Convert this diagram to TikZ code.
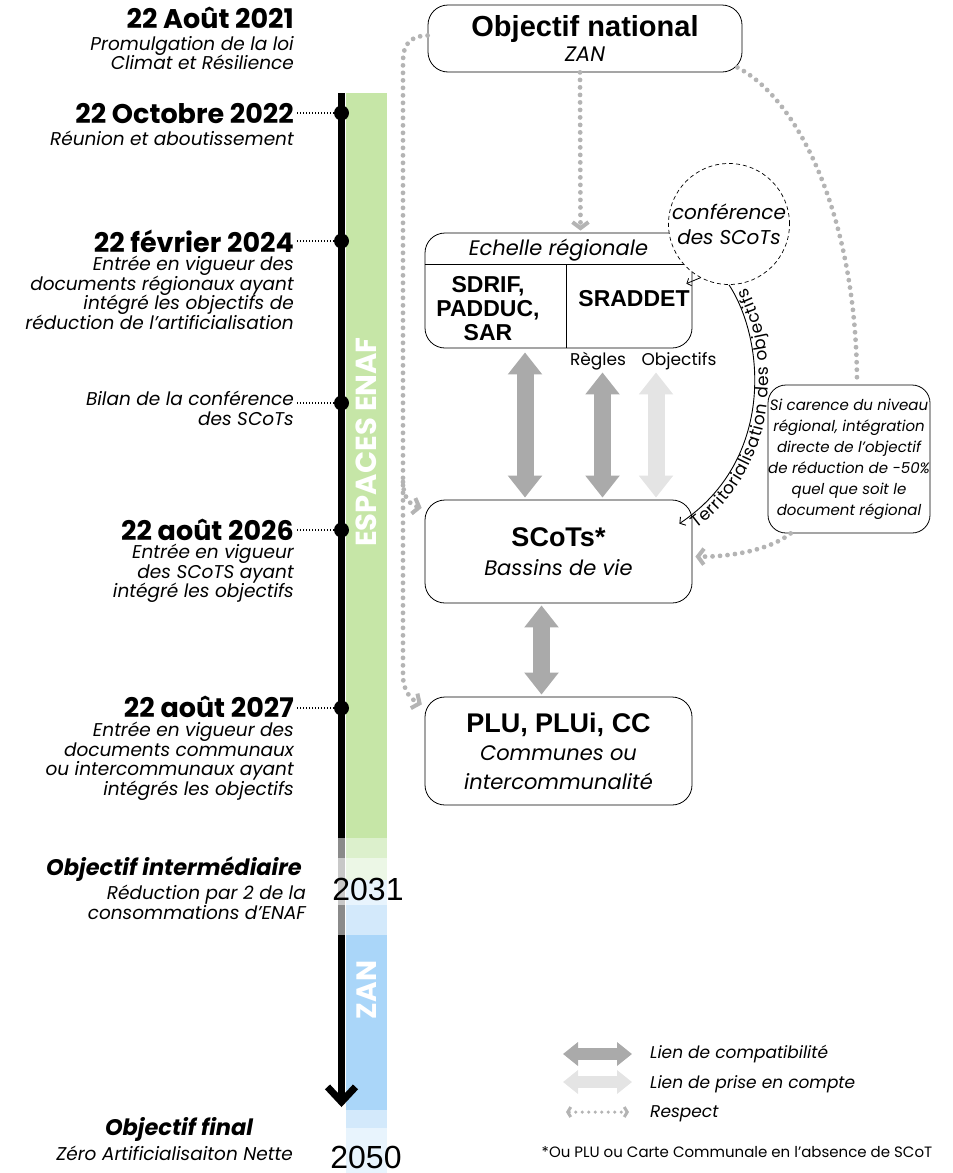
\documentclass[tikz,border=0pt]{standalone}
\usepackage{fontspec}
\setmainfont{Poppins}
\newfontfamily\titlefont{Liberation Sans}
\usetikzlibrary{arrows.meta,positioning,decorations.text}

\definecolor{enafgreen}{RGB}{198,230,167}
\definecolor{fadegreen}{RGB}{220,240,204}
\definecolor{palegreen}{RGB}{236,247,230}
\definecolor{paleblue}{RGB}{232,244,253}
\definecolor{fadeblue}{RGB}{211,233,251}
\definecolor{zanblue}{RGB}{170,214,249}
\definecolor{fadeline}{RGB}{138,138,138}
\definecolor{paleline}{RGB}{200,200,200}
\definecolor{compatgray}{RGB}{170,170,170}
\definecolor{prisegray}{RGB}{228,228,228}
\definecolor{respgray}{RGB}{180,180,180}

\tikzset{
  datelbl/.style={anchor=base east, inner sep=0pt, font=\fontsize{27}{30}\selectfont\bfseries},
  desclbl/.style={anchor=north east, inner sep=0pt, align=right, font=\fontsize{18.5}{19.5}\selectfont\itshape},
  tdot/.style={circle, fill=black, minimum size=15pt, inner sep=0pt},
  tline/.style={line width=7pt},
  dotline/.style={line width=1.3pt, dash pattern=on 1.3pt off 1.7pt, shorten <=3pt},
  docbox/.style={draw, rounded corners=20pt, line width=0.8pt, minimum width=267pt, align=center, inner sep=0pt},
  respect/.style={draw=respgray, line width=4.8pt, line cap=round, dash pattern=on 0pt off 7.5pt, -{Straight Barb[length=6pt,width=16pt,line width=4pt]}},
  compat/.style={draw=compatgray, line width=17pt, {Triangle[length=22pt,width=33pt]}-{Triangle[length=22pt,width=33pt]}},
  prise/.style={compat, draw=prisegray},
  legarrow/.style={line width=12pt, {Triangle[length=15pt,width=23pt]}-{Triangle[length=15pt,width=23pt]}},
  legtext/.style={anchor=base west, inner sep=0pt, font=\fontsize{17}{20}\selectfont\itshape},
}

\begin{document}
\begin{tikzpicture}[x=1pt,y=-1pt]
\useasboundingbox (0,0) rectangle (953,1173);

% bande ENAF / ZAN
\fill[enafgreen] (346,93) rectangle (387,838);
\fill[fadegreen] (346,838) rectangle (387,858);
\fill[palegreen] (346,858) rectangle (387,880);
\fill[paleblue] (346,880) rectangle (387,905);
\fill[fadeblue] (346,905) rectangle (387,935);
\fill[zanblue] (346,935) rectangle (387,1110);
\fill[fadeblue] (346,1110) rectangle (387,1128);
\fill[paleblue] (346,1128) rectangle (387,1173);
\node[font=\fontsize{29}{29}\selectfont\bfseries, text=white, rotate=90] (enaf) at (366.5,442) {ESPACES ENAF};
\node[font=\fontsize{28}{28}\selectfont\bfseries, text=white, rotate=90] (zan) at (367,990) {ZAN};

% frise
\coordinate (tlA) at (341.5,93);
\coordinate (tlB) at (341.5,838);
\coordinate (tlC) at (341.5,858);
\coordinate (tlD) at (341.5,905);
\coordinate (tlE) at (341.5,935);
\coordinate (tlF) at (341.5,1107);
\path[draw,tline] (tlA) -- (tlB);
\path[draw,tline,draw=fadeline] (tlB) -- (tlC);
\path[draw,tline,draw=paleline] (tlC) -- (tlD);
\path[draw,tline,draw=fadeline] (tlD) -- (tlE);
\path[draw,tline,-{Straight Barb[length=15pt,width=28pt,line width=7pt]}] (tlE) -- (tlF);

\node[tdot] (dot2022) at (341.5,113) {};
\node[tdot] (dot2024) at (341.5,241) {};
\node[tdot] (dotbilan) at (341.5,403) {};
\node[tdot] (dot2026) at (341.5,530) {};
\node[tdot] (dot2027) at (341.5,708) {};

% dates
\node[datelbl] (d2021) at (294,28) {22 Août 2021};
\node[desclbl] (t2021) at (294,36) {Promulgation de la loi\\Climat et Résilience};
\node[datelbl] (d2022) at (294,123) {22 Octobre 2022};
\node[desclbl] (t2022) at (294,131) {Réunion et aboutissement};
\node[datelbl] (d2024) at (294,252) {22 février 2024};
\node[desclbl] (t2024) at (294,256) {Entrée en vigueur des\\documents régionaux ayant\\intégré les objectifs de\\réduction de l’artificialisation};
\node[desclbl] (tbilan) at (294,391) {Bilan de la conférence\\des SCoTs};
\node[datelbl] (d2026) at (294,540) {22 août 2026};
\node[desclbl] (t2026) at (294,544) {Entrée en vigueur\\des SCoTS ayant\\intégré les objectifs};
\node[datelbl] (d2027) at (294,717) {22 août 2027};
\node[desclbl] (t2027) at (294,722) {Entrée en vigueur des\\documents communaux\\ou intercommunaux ayant\\intégrés les objectifs};

\path[draw,dotline] (d2022.east |- dot2022.west) -- (dot2022.west);
\path[draw,dotline] (d2024.east |- dot2024.west) -- (dot2024.west);
\path[draw,dotline] (tbilan.north east |- dotbilan.west) -- (dotbilan.west);
\path[draw,dotline] (d2026.east |- dot2026.west) -- (dot2026.west);
\path[draw,dotline] (d2027.east |- dot2027.west) -- (dot2027.west);

% objectifs
\node[anchor=base east, inner sep=0pt, font=\fontsize{22.5}{24}\selectfont\bfseries\itshape] (inter) at (302,875) {Objectif intermédiaire};
\node[desclbl] (tinter) at (306,885) {Réduction par 2 de la\\consommations d’ENAF};
\node[anchor=base, inner sep=0pt, font=\titlefont\fontsize{32}{32}\selectfont] (y2031) at (368,900) {2031};
\node[anchor=base, inner sep=0pt, font=\fontsize{22.5}{24}\selectfont\bfseries\itshape] (final) at (179,1135) {Objectif final};
\node[desclbl, anchor=base east] (tfinal) at (293,1160) {Zéro Artificialisaiton Nette};
\node[anchor=base, inner sep=0pt, font=\titlefont\fontsize{32}{32}\selectfont] (y2050) at (366,1168) {2050};

% documents
\node[docbox, minimum width=314pt, minimum height=67pt, font=\fontsize{21}{25}\selectfont] (national) at (585,38.5) {{\titlefont\bfseries\fontsize{29}{29}\selectfont Objectif national}\\\itshape ZAN};

\node[docbox, minimum height=115pt] (region) at (558.5,290.5) {};
\path[draw,line width=0.8pt] ([yshift=-32pt]region.north west) -- ([yshift=-32pt]region.north east);
\path[draw,line width=0.8pt] ([xshift=8pt,yshift=-32pt]region.north) -- ([xshift=8pt]region.south);
\node[font=\fontsize{21}{21}\selectfont\itshape] (regtitle) at (558.5,250) {Echelle régionale};
\node[align=center, font=\titlefont\bfseries\fontsize{23}{24}\selectfont] (sdrif) at (488,309) {SDRIF,\\PADDUC,\\SAR};
\node[font=\titlefont\bfseries\fontsize{23}{24}\selectfont] (sraddet) at (634,299) {SRADDET};

\node[circle, draw, line width=0.7pt, dash pattern=on 4pt off 3pt, fill=white, minimum size=112pt, inner sep=0pt, align=center, font=\fontsize{20}{25}\selectfont\itshape] (conf) at (729,224) {conférence\\des SCoTs};

\node[docbox, minimum height=103pt, font=\fontsize{21}{29}\selectfont] (scots) at (558.5,551.5) {{\titlefont\bfseries\fontsize{27}{27}\selectfont SCoTs*}\\\itshape Bassins de vie};
\node[docbox, minimum height=108pt, font=\fontsize{21}{28.5}\selectfont] (plu) at (558.5,751) {{\titlefont\bfseries\fontsize{27}{27}\selectfont PLU, PLUi, CC}\\\itshape Communes ou\\\itshape intercommunalité};
\node[docbox, rounded corners=18pt, minimum width=162pt, minimum height=148pt, font=\fontsize{15}{21}\selectfont\itshape] (note) at (849,459) {Si carence du niveau\\régional, intégration\\directe de l’objectif\\de réduction de -50\%\\quel que soit le\\document régional};

% liens
\path[draw,compat,shorten <=4pt,shorten >=2pt] ([xshift=-33.5pt]region.south) -- ([xshift=-33.5pt]scots.north);
\path[draw,compat,shorten <=24pt,shorten >=2pt] ([xshift=44pt]region.south) -- ([xshift=44pt]scots.north);
\path[draw,prise,shorten <=24pt,shorten >=2pt] ([xshift=97.5pt]region.south) -- ([xshift=97.5pt]scots.north);
\path[draw,compat,shorten <=2pt,shorten >=2pt] ([xshift=-17pt]scots.south) -- ([xshift=-17pt]plu.north);
\node[anchor=base, inner sep=0pt, font=\fontsize{17}{17}\selectfont] (regles) at (598,365) {Règles};
\node[anchor=base, inner sep=0pt, font=\fontsize{17}{17}\selectfont] (objs) at (679,365) {Objectifs};

\path[draw,line width=0.9pt,-{Straight Barb[length=4pt,width=10pt]}] (conf.south) .. controls (765,340) and (775,460) .. ([xshift=-13pt,yshift=-24pt]scots.north east);
\path[decorate,decoration={text along path,text={|\fontsize{17}{17}\selectfont|Territorialisation des objectifs},text align=center,raise=-14pt}] ([xshift=-13pt,yshift=-24pt]scots.north east) .. controls (775,460) and (765,340) .. (conf.south);
\path[draw,line width=0.8pt,-{Straight Barb[length=3.5pt,width=8pt]}] (conf.-118) -- ([xshift=-6pt,yshift=-51pt]region.north east);

% respect
\coordinate (lsplit) at (403,482);
\path[draw,respect,shorten >=3pt] ([yshift=3pt]national.west) .. controls (410,36) and (403,44) .. (403,62) -- (403,675) .. controls (403,690) and (410,699) .. ([yshift=-9pt]plu.north west);
\path[draw,respect,shorten >=3pt] (lsplit) .. controls (403,497) and (410,505) .. ([yshift=-9pt]scots.north west);
\path[draw,respect,shorten >=2pt] ([xshift=-5pt]national.south) -- ([xshift=22pt]region.north);
\path[draw,respect,-] ([xshift=-5pt,yshift=5pt]national.south east) .. controls (800,100) and (857,220) .. ([xshift=8pt]note.north);
\path[draw,respect,shorten >=3pt] ([xshift=23pt]note.south west) .. controls (770,550) and (730,557) .. ([yshift=-5pt]scots.east);

% legende
\coordinate (legcA) at (563,1054);
\coordinate (legcB) at (632,1054);
\coordinate (legpA) at (563,1082);
\coordinate (legpB) at (632,1082);
\coordinate (legrA) at (566,1112);
\coordinate (legrB) at (629,1112);
\path[draw,compat,legarrow] (legcA) -- (legcB);
\path[draw,prise,legarrow] (legpA) -- (legpB);
\path[draw,respect,line width=3.5pt,dash pattern=on 0pt off 6.5pt,{Straight Barb[length=3pt,width=10pt,line width=3pt]}-{Straight Barb[length=3pt,width=10pt,line width=3pt]}] (legrA) -- (legrB);
\node[legtext] (legc) at (650,1058) {Lien de compatibilité};
\node[legtext] (legp) at (650,1088) {Lien de prise en compte};
\node[legtext] (legr) at (650,1117) {Respect};
\node[anchor=base, inner sep=0pt, font=\fontsize{15}{15}\selectfont] (foot) at (737,1157) {*Ou PLU ou Carte Communale en l’absence de SCoT};
\end{tikzpicture}
\end{document}
